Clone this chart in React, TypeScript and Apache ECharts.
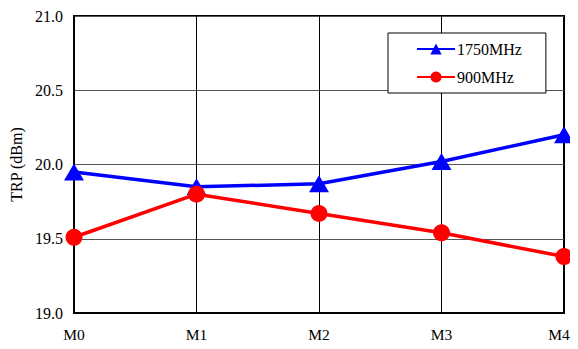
import React, { useEffect, useRef } from "react";
import * as echarts from "echarts";

const categories = ["M0", "M1", "M2", "M3", "M4"];
const series1750 = [19.95, 19.85, 19.87, 20.02, 20.2];
const series900 = [19.51, 19.8, 19.67, 19.54, 19.38];
const yTicks = { min: 19.0, max: 21.0, interval: 0.5 };

const FONT = "Liberation Serif";

export default function App() {
  const ref = useRef<HTMLDivElement>(null);
  useEffect(() => {
    if (!ref.current) return;
    const chart = echarts.init(ref.current, null, { renderer: "svg" });
    chart.setOption({
      animation: false,
      backgroundColor: "#fff",
      textStyle: { fontFamily: FONT, color: "#000" },
      grid: {
        left: 74,
        right: 14,
        top: 16,
        bottom: 36,
        show: true,
        borderColor: "#000",
        borderWidth: 2,
        backgroundColor: "transparent",
      },
      legend: {
        orient: "vertical",
        left: 388,
        top: 33,
        backgroundColor: "#fff",
        borderColor: "#000",
        borderWidth: 1,
        borderRadius: 0,
        padding: [8, 24, 8, 28],
        itemGap: 12,
        itemWidth: 38,
        itemHeight: 14,
        textStyle: { fontFamily: FONT, fontSize: 16, color: "#000", padding: [0, 0, 0, -3] },
        data: ["1750MHz", "900MHz"],
      },
      xAxis: {
        type: "category",
        data: categories,
        boundaryGap: false,
        axisLine: { show: true, lineStyle: { color: "#000", width: 2 } },
        axisTick: { show: false },
        axisLabel: {
          fontFamily: FONT,
          fontSize: 15.5,
          color: "#000",
          margin: 13,
          hideOverlap: false,
          formatter: (v: string, i: number) =>
            i === categories.length - 1 ? `{last|${v}}` : v,
          rich: {
            last: {
              fontFamily: FONT,
              fontSize: 15.5,
              color: "#000",
              padding: [0, 10, 0, 0],
            },
          },
        },
        splitLine: { show: true, lineStyle: { color: "#000", width: 1 } },
      },
      yAxis: {
        type: "value",
        min: yTicks.min,
        max: yTicks.max,
        interval: yTicks.interval,
        name: "TRP (dBm)",
        nameLocation: "middle",
        nameGap: 48,
        nameTextStyle: { fontFamily: FONT, fontSize: 16, color: "#000" },
        axisLine: { show: true, lineStyle: { color: "#000", width: 2 } },
        axisTick: { show: false },
        axisLabel: {
          fontFamily: FONT,
          fontSize: 16,
          color: "#000",
          margin: 11,
          formatter: (v: number) => v.toFixed(1),
        },
        splitLine: { show: true, lineStyle: { color: "#555", width: 1 } },
      },
      series: [
        {
          name: "1750MHz",
          type: "line",
          data: series1750,
          color: "#0000ff",
          lineStyle: { color: "#0000ff", width: 3.5 },
          itemStyle: { color: "#0000ff" },
          symbol: "triangle",
          symbolSize: [20, 17],
          z: 3,
        },
        {
          name: "900MHz",
          type: "line",
          data: series900,
          color: "#ff0000",
          lineStyle: { color: "#ff0000", width: 3.5 },
          itemStyle: { color: "#ff0000" },
          symbol: "circle",
          symbolSize: 17,
          z: 4,
        },
      ],
    });
    return () => chart.dispose();
  }, []);
  return <div ref={ref} style={{ width: 578, height: 349, margin: -8 }} />;
}
